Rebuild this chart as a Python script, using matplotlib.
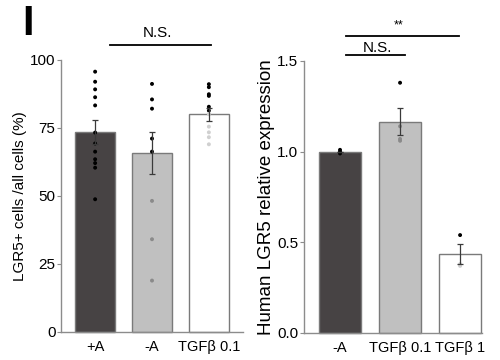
import matplotlib
matplotlib.use("Agg")
import matplotlib.pyplot as plt
import numpy as np

plt.rcParams['font.family'] = ['Liberation Sans', 'DejaVu Sans']

# left panel: % LGR5+ cells
left_groups = ["+A", "-A", "TGFβ 0.1"]
left_means = [73.6, 65.9, 80.1]
left_sem = [4.4, 7.7, 2.4]
left_points = [
    [95.7, 92.0, 89.2, 86.3, 83.3, 73.3, 69.3, 66.3, 63.5, 62.1, 60.4, 48.8],
    [91.2, 85.5, 82.1, 71.1, 66.3, 48.2, 34.1, 18.9],
    [91.1, 90.0, 87.4, 86.8, 82.8, 81.4, 80.1, 75.5, 73.4, 71.6, 69.0],
]

# right panel: relative expression
right_groups = ["-A", "TGFβ 0.1", "TGFβ 1"]
right_means = [1.0, 1.165, 0.434]
right_sem = [0.0, 0.075, 0.056]
right_points = [
    [1.01, 1.0, 0.99],
    [1.38, 1.14, 1.07, 1.06],
    [0.54, 0.38, 0.37],
]

bar_colors = ["#474344", "#c0c0c0", "white"]
inside_colors = ["black", "#8a8a8a", "#d0d0d0"]
spine_col = "#8c8c8c"


def draw_panel(ax, groups, means, sem, points, width, ylim, yticks, ytl):
    x = np.arange(len(groups))
    for i in range(len(groups)):
        cols = ["black" if p > means[i] else inside_colors[i] for p in points[i]]
        ax.scatter([x[i]] * len(points[i]), points[i], s=8, c=cols,
                   zorder=3, linewidths=0)
    ax.bar(x, means, width=width, color=bar_colors, edgecolor="#7a7a7a",
           linewidth=1.0, zorder=2, clip_on=False)
    ax.errorbar(x, means, yerr=sem, fmt="none", ecolor="#3a3a3a",
                elinewidth=0.9, capsize=2.5, capthick=0.9, zorder=4)
    ax.set_ylim(*ylim)
    ax.set_yticks(yticks)
    ax.set_yticklabels(ytl, fontsize=11)
    ax.set_xticks(x)
    ax.set_xticklabels(groups, fontsize=10.5)
    ax.tick_params(axis="x", length=0, pad=6)
    ax.tick_params(axis="y", length=3, color=spine_col, pad=1)
    for s in ["top", "right"]:
        ax.spines[s].set_visible(False)
    for s in ["left", "bottom"]:
        ax.spines[s].set_color(spine_col)
        ax.spines[s].set_linewidth(1.0)


fig = plt.figure(figsize=(5, 3.6), dpi=100)

ax1 = fig.add_axes([0.122, 0.0778, 0.364, 0.7556])
draw_panel(ax1, left_groups, left_means, left_sem, left_points, 0.7,
           (0, 100), [0, 25, 50, 75, 100], ["0", "25", "50", "75", "100"])
ax1.set_xlim(-0.6, 2.6)
ax1.set_ylabel("LGR5+ cells /all cells (%)", fontsize=11, labelpad=2)
ax1.plot([0.26, 2.04], [105.4, 105.4], color="black", lw=1.3, clip_on=False)
ax1.text(1.09, 107.3, "N.S.", ha="center", va="bottom", fontsize=11)

ax2 = fig.add_axes([0.608, 0.075, 0.356, 0.7556])
draw_panel(ax2, right_groups, right_means, right_sem, right_points, 0.69,
           (0, 1.5), [0, 0.5, 1.0, 1.5], ["0.0", "0.5", "1.0", "1.5"])
ax2.set_xlim(-0.6, 2.365)
ax2.set_ylabel("Human LGR5 relative expression", fontsize=13.5, labelpad=2)
ax2.plot([0.1, 1.98], [1.64, 1.64], color="black", lw=1.3, clip_on=False)
ax2.text(0.97, 1.665, "**", ha="center", va="bottom", fontsize=9)
ax2.plot([0.1, 1.08], [1.535, 1.535], color="black", lw=1.3, clip_on=False)
ax2.text(0.63, 1.535, "N.S.", ha="center", va="bottom", fontsize=11)

fig.text(0.044, 0.99, "I", fontsize=30, fontweight="bold", ha="left", va="top")

fig.savefig("out.png", dpi=100)
